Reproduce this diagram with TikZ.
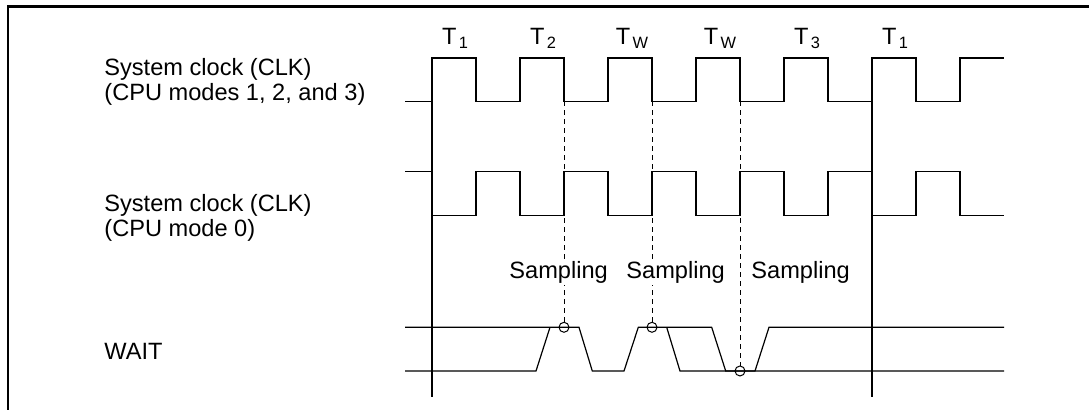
\documentclass[tikz,border=0pt]{standalone}
\usepackage{fontspec}
\setmainfont{Liberation Sans}
\usetikzlibrary{positioning}
\newcommand{\tcyc}[1]{T\hspace{1.2pt}\raisebox{-2pt}{\fontsize{8.2}{9}\selectfont #1}}

\begin{document}
\begin{tikzpicture}[x=0.5pt,y=-0.5pt,font=\fontsize{11.8}{12.6}\selectfont,
  sig/.style={line width=0.6pt},
  samp/.style={dash pattern=on 2.5pt off 2pt,line width=0.5pt},
  lbl/.style={anchor=base west,inner sep=0pt,align=left},
  cyc/.style={anchor=base,inner sep=0pt}]
  \useasboundingbox (0,0) rectangle (1089,410);
  \clip (0,0) rectangle (1089,410);
  % frame
  \draw[line width=1.25pt] (8,412) -- (8,6.5) -- (1092,6.5);
  % signal names
  \node[lbl] (clkA) at (104,101) {System clock (CLK)\\(CPU modes 1, 2, and 3)};
  \node[lbl] (clkB) at (104,237) {System clock (CLK)\\(CPU mode 0)};
  \node[lbl] (wait) at (104,360) {WAIT};
  % bus cycle names
  \node[cyc] (c1) at (455,45) {\tcyc{1}};
  \node[cyc] (c2) at (543,45) {\tcyc{2}};
  \node[cyc] (c3) at (632,45) {\tcyc{W}};
  \node[cyc] (c4) at (720,45) {\tcyc{W}};
  \node[cyc] (c5) at (807,45) {\tcyc{3}};
  \node[cyc] (c6) at (895,45) {\tcyc{1}};
  % clocks
  \draw[sig] (405,101.5) -- (432,101.5)
    \foreach \k in {0,...,5}{ -- ++(0,-43.5) -- ++(44,0) -- ++(0,43.5) -- ++(44,0)}
    -- ++(0,-43.5) -- ++(44,0);
  \draw[sig] (405,171.7) -- (432,171.7)
    \foreach \k in {0,...,5}{ -- ++(0,44) -- ++(44,0) -- ++(0,-44) -- ++(44,0)}
    -- ++(0,44) -- ++(44,0);
  % cycle boundaries
  \draw[sig] (432,58) -- (432,397);
  \draw[sig] (872,58) -- (872,397);
  % WAIT
  \draw[sig] (405,327.3) -- (579,327.3) -- (592.3,371) -- (624,371) -- (638.3,327.3)
    -- (711.7,327.3) -- (725.7,371) -- (755,371) -- (769,327.3) -- (1004,327.3);
  \draw[sig] (405,371) -- (536,371) -- (550,327.3);
  \draw[sig] (666.7,327.3) -- (680,371) -- (1004,371);
  % sampling points
  \coordinate (s1) at (564,327.3);
  \coordinate (s2) at (652,327.3);
  \coordinate (s3) at (740,371);
  \foreach \s in {s1,s2,s3}
    \draw[line width=0.5pt] (\s) circle (2.5pt);
  \draw[samp] (564,101.5) -- ([yshift=2.5pt]s1);
  \draw[samp] (652,101.5) -- ([yshift=2.5pt]s2);
  \draw[samp] (740,101.5) -- ([yshift=2.5pt]s3);
  \node[lbl,fill=white,inner sep=1pt] (m1) at (507,278.3) {Sampling};
  \node[lbl,fill=white,inner sep=1pt] (m2) at (624,278.3) {Sampling};
  \node[lbl,fill=white,inner sep=1pt] (m3) at (749,278.3) {Sampling};
\end{tikzpicture}
\end{document}
